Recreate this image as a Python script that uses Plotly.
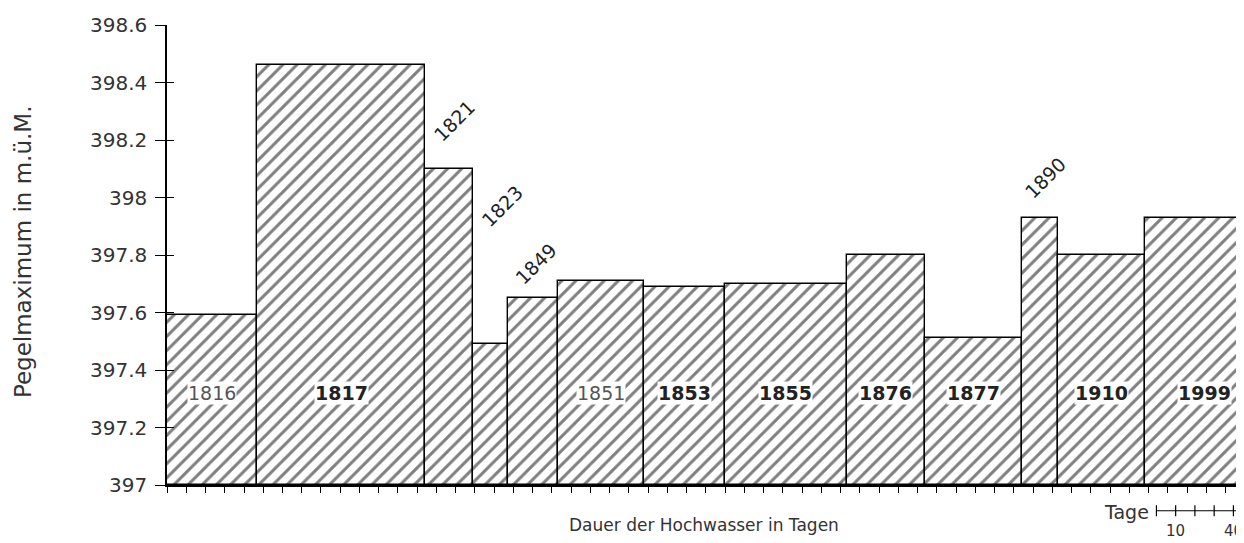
import plotly.graph_objects as go

# ---- data ----
years = ["1816", "1817", "1821", "1823", "1849", "1851", "1853",
         "1855", "1876", "1877", "1890", "1910", "1999"]
duration_days = [47, 87, 25, 18, 26, 45, 42, 63, 41, 50, 19, 45, 62]
peak_level = [397.59, 398.46, 398.10, 397.49, 397.65, 397.71, 397.69,
              397.70, 397.80, 397.51, 397.93, 397.80, 397.93]

y_tick_values = [397.0, 397.2, 397.4, 397.6, 397.8, 398.0, 398.2, 398.4, 398.6]
y_tick_labels = ["397", "397.2", "397.4", "397.6", "397.8", "398",
                 "398.2", "398.4", "398.6"]

inside_label_years = ["1816", "1817", "1851", "1853", "1855", "1876",
                      "1877", "1910", "1999"]
light_label_years = ["1816", "1851"]
rotated_label_years = ["1821", "1823", "1849", "1890"]

scale_steps = [0, 10, 20, 30, 40]
scale_labels = ["10", "40"]

# ---- styling ----
FONT = "DejaVu Sans"
TXT = "#333333"
BASE = 397.0
X_MAX = 559.5
rot_offsets = {"1821": (5, 48), "1823": (12, 138), "1849": (3, 34), "1890": (5, 40)}
scale_start = 514

starts = []
acc = 0
for d in duration_days:
    starts.append(acc)
    acc += d
centers = [s + d / 2 for s, d in zip(starts, duration_days)]

fig = go.Figure()
fig.add_trace(go.Bar(
    x=centers, y=[v - BASE for v in peak_level], base=BASE, width=duration_days,
    marker=dict(color="white",
                line=dict(color="black", width=1.4),
                pattern=dict(shape="/", fgcolor="black", bgcolor="white",
                             size=10, solidity=0.3)),
    hoverinfo="skip", showlegend=False,
))
fig.add_trace(go.Scatter(x=[None], y=[None], yaxis="y2", showlegend=False,
                         hoverinfo="skip"))

annotations = []
for yr, c, v in zip(years, centers, peak_level):
    if yr in inside_label_years:
        light = yr in light_label_years
        annotations.append(dict(
            x=c, y=397.32, xref="x", yref="y",
            text=yr if light else "<b>" + yr + "</b>",
            showarrow=False, bgcolor="white", borderpad=0,
            font=dict(family=FONT, size=19, color="#555555" if light else "#222222"),
        ))
    if yr in rotated_label_years:
        dx, dy = rot_offsets[yr]
        annotations.append(dict(
            x=c, y=v, xref="x", yref="y", text=yr, textangle=-45,
            showarrow=False, xshift=dx, yshift=dy,
            font=dict(family=FONT, size=19, color="#222222"),
        ))

# axis titles
annotations.append(dict(
    x=-0.1336, y=0.5065, xref="paper", yref="paper", text="Pegelmaximum in m.ü.M.",
    textangle=-90, showarrow=False, xanchor="center", yanchor="middle",
    font=dict(family=FONT, size=23, color=TXT)))
annotations.append(dict(
    x=0.4986, y=-0.087, xref="paper", yref="paper", text="Dauer der Hochwasser in Tagen",
    showarrow=False, xanchor="center", yanchor="middle",
    font=dict(family=FONT, size=17, color=TXT)))

# "Tage" scale bar
shapes = []
annotations.append(dict(
    x=scale_start, y=-0.058, xref="x", yref="paper", text="Tage", xanchor="right",
    yanchor="middle", xshift=-5, showarrow=False,
    font=dict(family=FONT, size=19, color=TXT)))
shapes.append(dict(type="line", xref="x", yref="paper",
                   x0=scale_start, x1=scale_start + scale_steps[-1] + 10,
                   y0=-0.056, y1=-0.056, line=dict(color="black", width=1.2)))
for s in scale_steps:
    shapes.append(dict(type="line", xref="x", yref="paper",
                       x0=scale_start + s, x1=scale_start + s,
                       y0=-0.068, y1=-0.044, line=dict(color="black", width=1.2)))
for lab in scale_labels:
    annotations.append(dict(
        x=scale_start + int(lab), y=-0.1, xref="x", yref="paper", text=lab,
        showarrow=False, xanchor="center", yanchor="middle",
        font=dict(family=FONT, size=15, color=TXT)))

# the page body adds an 8px margin, so the figure is sized to fill the window
fig.update_layout(
    width=1236, height=535,
    margin=dict(l=159, r=0, t=17, b=58),
    paper_bgcolor="white", plot_bgcolor="white",
    bargap=0,
    xaxis=dict(range=[0, X_MAX], tick0=0, dtick=10, ticks="outside", ticklen=6,
               tickwidth=1.2, tickcolor="black", showticklabels=False,
               showline=True, linecolor="black", linewidth=1.5,
               showgrid=False, zeroline=False),
    yaxis=dict(range=[397, 398.6], tickvals=y_tick_values, ticktext=y_tick_labels,
               ticks="outside", ticklen=10, tickwidth=1.2, tickcolor="black",
               showline=True, linecolor="black", linewidth=1.5,
               showgrid=False, zeroline=False, ticklabelstandoff=4,
               tickfont=dict(family=FONT, size=20, color=TXT)),
    yaxis2=dict(range=[397, 398.6], overlaying="y", side="left", anchor="x",
                tickvals=y_tick_values, ticks="inside", ticklen=7, tickwidth=1.2,
                tickcolor="black", showticklabels=False, showline=False,
                showgrid=False, zeroline=False),
    annotations=annotations, shapes=shapes,
)

fig.write_html("out.html")
